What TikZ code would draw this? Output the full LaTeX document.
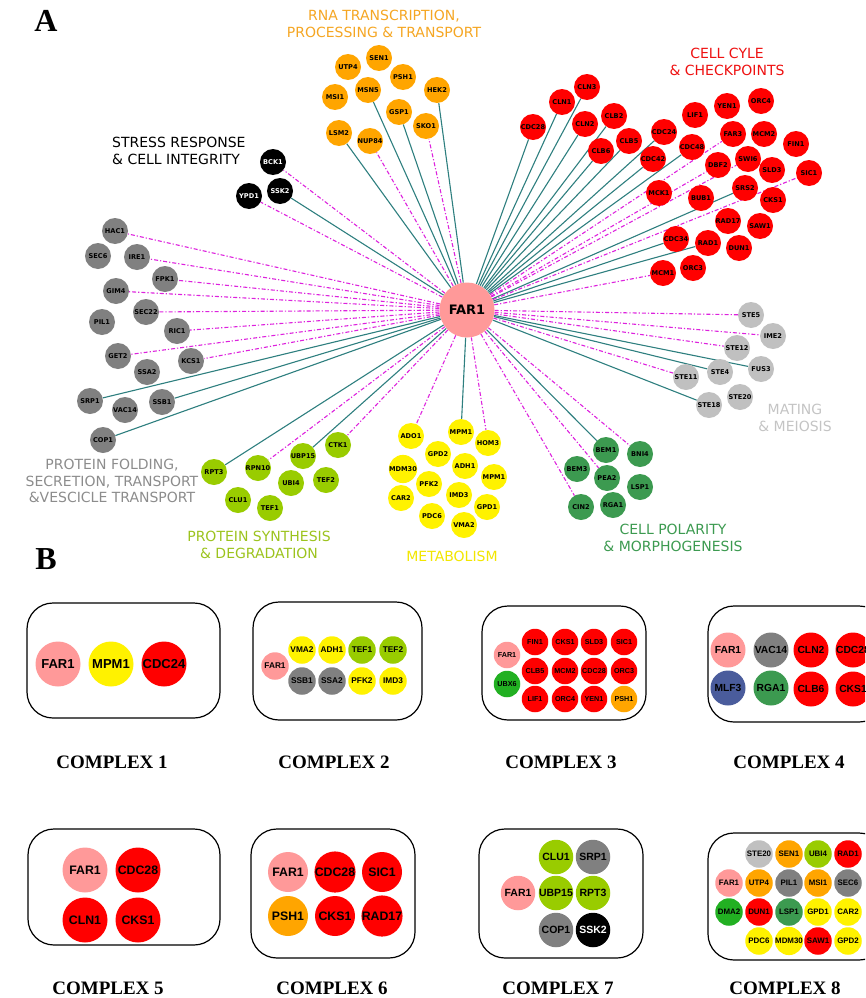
\documentclass[tikz,border=0pt]{standalone}
\usepackage{fontspec}
\setmainfont{Liberation Serif}
\newfontfamily\dvs{DejaVu Sans}
\newfontfamily\lsans{Liberation Sans}
\usetikzlibrary{backgrounds}
\definecolor{cTeal}{HTML}{2E7F7F}
\definecolor{cMag}{HTML}{DD22DD}
\definecolor{cRed}{HTML}{FF0000}
\definecolor{cOrange}{HTML}{FFA500}
\definecolor{cGray}{HTML}{808080}
\definecolor{cLGray}{HTML}{C0C0C0}
\definecolor{cYellow}{HTML}{FFF200}
\definecolor{cYG}{HTML}{99CC00}
\definecolor{cGreen}{HTML}{3C9A50}
\definecolor{cPink}{HTML}{FF9999}
\definecolor{cBGreen}{HTML}{22B022}
\definecolor{cBlue}{HTML}{4A5C9C}
\definecolor{tOrange}{HTML}{F5A623}
\definecolor{tRed}{HTML}{EE1111}
\definecolor{tGray}{HTML}{8C8C8C}
\definecolor{tYG}{HTML}{9CC31E}
\definecolor{tYellow}{HTML}{F2E600}
\definecolor{tGreen}{HTML}{3C9A50}
\definecolor{tLGray}{HTML}{C4C4C4}
\newcommand\cfs[1]{\lsans\bfseries\fontsize{#1}{#1}\selectfont}
\tikzset{
 an/.style={circle, inner sep=0pt, minimum size=26pt, font=\dvs\bfseries\fontsize{6.6}{7}\selectfont, text=black},
 nr/.style={an, fill=cRed}, no/.style={an, fill=cOrange}, ng/.style={an, fill=cGray},
 nl/.style={an, fill=cLGray}, nk/.style={an, fill=black, text=white}, ny/.style={an, fill=cYellow},
 nv/.style={an, fill=cYG}, nm/.style={an, fill=cGreen},
 te/.style={draw=cTeal, line width=1.1pt},
 me/.style={draw=cMag, line width=1.1pt, dash pattern=on 4pt off 2pt on 1.2pt off 2pt},
 cat/.style={font=\dvs\fontsize{14}{17.5}\selectfont, align=center, inner sep=0pt},
 cbox/.style={draw, line width=1.2pt, rounded corners=26pt},
 clab/.style={font=\bfseries\fontsize{19}{22}\selectfont, inner sep=0pt},
 cc/.style={circle, inner sep=0pt},
}
\begin{document}
\begin{tikzpicture}[x=1pt,y=-1pt]
\useasboundingbox (0,0) rectangle (865,998);
\clip (0,0) rectangle (865,998);

\node[font=\bfseries\fontsize{32}{32}\selectfont, inner sep=0pt] (labA) at (46,21) {A};
\node[font=\bfseries\fontsize{32}{32}\selectfont, inner sep=0pt] (labB) at (46,559) {B};

% centre
\node[circle, fill=cPink, minimum size=55pt, inner sep=0pt, font=\dvs\bfseries\fontsize{13}{14}\selectfont] (far1) at (467,310) {FAR1};

% RNA
\node[no] (sen1) at (379,58) {SEN1};
\node[no] (utp4) at (348,67) {UTP4};
\node[no] (psh1) at (403,77) {PSH1};
\node[no] (hek2) at (437,90) {HEK2};
\node[no] (msi1) at (335,97) {MSI1};
\node[no] (msn5) at (368,90) {MSN5};
\node[no] (gsp1) at (399,112) {GSP1};
\node[no] (sko1) at (426,126) {SKO1};
\node[no] (lsm2) at (339,133) {LSM2};
\node[no] (nup84) at (370,141) {NUP84};
\node[cat, text=tOrange] (tRNA) at (384,24) {RNA TRANSCRIPTION,\\PROCESSING \& TRANSPORT};

% cell cycle
\node[nr] (cln3) at (587,87) {CLN3};
\node[nr] (cln1) at (562,102) {CLN1};
\node[nr] (cdc28) at (533,127) {CDC28};
\node[nr] (cln2) at (585,124) {CLN2};
\node[nr] (clb2) at (614,116) {CLB2};
\node[nr] (clb5) at (629,141) {CLB5};
\node[nr] (clb6) at (601,151) {CLB6};
\node[nr] (cdc24) at (664,132) {CDC24};
\node[nr] (cdc48) at (692,147) {CDC48};
\node[nr] (cdc42) at (653,159) {CDC42};
\node[nr] (lif1) at (695,115) {LIF1};
\node[nr] (yen1) at (727,106) {YEN1};
\node[nr] (orc4) at (761,101) {ORC4};
\node[nr] (far3) at (733,134) {FAR3};
\node[nr] (mcm2) at (764,134) {MCM2};
\node[nr] (fin1) at (796,144) {FIN1};
\node[nr] (swi6) at (748,159) {SWI6};
\node[nr] (dbf2) at (718,165) {DBF2};
\node[nr] (sld3) at (772,170) {SLD3};
\node[nr] (sic1) at (809,173) {SIC1};
\node[nr] (mck1) at (659,193) {MCK1};
\node[nr] (bub1) at (701,198) {BUB1};
\node[nr] (srs2) at (745,188) {SRS2};
\node[nr] (cks1) at (773,200) {CKS1};
\node[nr] (rad17) at (728,221) {RAD17};
\node[nr] (saw1) at (760,226) {SAW1};
\node[nr] (cdc34) at (676,239) {CDC34};
\node[nr] (rad1) at (708,243) {RAD1};
\node[nr] (dun1) at (739,248) {DUN1};
\node[nr] (mcm1) at (663,273) {MCM1};
\node[nr] (orc3) at (693,268) {ORC3};
\node[cat, text=tRed] (tCC) at (727,62) {CELL CYLE\\\& CHECKPOINTS};

% stress
\node[nk] (bck1) at (273,162) {BCK1};
\node[nk] (ssk2) at (280,191) {SSK2};
\node[nk] (ypd1) at (249,196) {YPD1};
\node[cat, align=left, anchor=west, text=black] (tST) at (112,151) {STRESS RESPONSE\\\& CELL INTEGRITY};

% protein folding
\node[ng] (hac1) at (115,231) {HAC1};
\node[ng] (sec6) at (98,256) {SEC6};
\node[ng] (ire1) at (137,257) {IRE1};
\node[ng] (fpk1) at (165,279) {FPK1};
\node[ng] (gim4) at (116,291) {GIM4};
\node[ng] (sec22) at (146,312) {SEC22};
\node[ng] (pil1) at (102,322) {PIL1};
\node[ng] (ric1) at (177,331) {RIC1};
\node[ng] (get2) at (118,356) {GET2};
\node[ng] (kcs1) at (191,361) {KCS1};
\node[ng] (ssa2) at (147,372) {SSA2};
\node[ng] (srp1) at (90,401) {SRP1};
\node[ng] (ssb1) at (162,402) {SSB1};
\node[ng] (vac14) at (125,410) {VAC14};
\node[ng] (cop1) at (103,440) {COP1};
\node[cat, text=tGray, font=\dvs\fontsize{14}{16.5}\selectfont] (tPF) at (112,481) {PROTEIN FOLDING,\\SECRETION, TRANSPORT\\\&VESCICLE TRANSPORT};

% protein synthesis
\node[nv] (ctk1) at (338,445) {CTK1};
\node[nv] (ubp15) at (303,456) {UBP15};
\node[nv] (rpn10) at (258,468) {RPN10};
\node[nv] (rpt3) at (214,472) {RPT3};
\node[nv] (ubi4) at (291,483) {UBI4};
\node[nv] (tef2) at (326,480) {TEF2};
\node[nv] (clu1) at (238,500) {CLU1};
\node[nv] (tef1) at (270,508) {TEF1};
\node[cat, text=tYG] (tPS) at (259,545) {PROTEIN SYNTHESIS\\\& DEGRADATION};

% metabolism
\node[ny] (ado1) at (411,436) {ADO1};
\node[ny] (mpm1) at (461,432) {MPM1};
\node[ny] (hom3) at (488,443) {HOM3};
\node[ny] (gpd2) at (438,454) {GPD2};
\node[ny] (adh1) at (465,466) {ADH1};
\node[ny] (mdm30) at (403,469) {MDM30};
\node[ny] (mpmb) at (494,477) {MPM1};
\node[ny] (pfk2) at (429,484) {PFK2};
\node[ny] (car2) at (401,498) {CAR2};
\node[ny] (imd3) at (459,495) {IMD3};
\node[ny] (gpd1) at (487,507) {GPD1};
\node[ny] (pdc6) at (432,516) {PDC6};
\node[ny] (vma2) at (464,525) {VMA2};
\node[cat, text=tYellow] (tMB) at (452,556) {METABOLISM};

% polarity
\node[nm] (bem1) at (606,450) {BEM1};
\node[nm] (bni4) at (640,454) {BNI4};
\node[nm] (bem3) at (577,469) {BEM3};
\node[nm] (pea2) at (607,478) {PEA2};
\node[nm] (lsp1) at (640,487) {LSP1};
\node[nm] (cin2) at (581,507) {CIN2};
\node[nm] (rga1) at (613,505) {RGA1};
\node[cat, text=tGreen] (tCP) at (673,538) {CELL POLARITY\\\& MORPHOGENESIS};

% mating
\node[nl] (ste5) at (751,315) {STE5};
\node[nl] (ime2) at (773,336) {IME2};
\node[nl] (ste12) at (737,348) {STE12};
\node[nl] (fus3) at (761,369) {FUS3};
\node[nl] (ste4) at (720,372) {STE4};
\node[nl] (ste11) at (686,377) {STE11};
\node[nl] (ste20) at (740,397) {STE20};
\node[nl] (ste18) at (709,405) {STE18};
\node[cat, text=tLGray] (tMT) at (795,418) {MATING\\\& MEIOSIS};

\begin{scope}[on background layer]
\foreach \n in {lsm2,msn5,gsp1,hek2,cdc28,cln1,cln3,cln2,clb2,clb6,clb5,cdc24,cdc42,cdc48,srs2,cdc34,rad1,ssk2,srp1,ssb1,cop1,rpt3,ubp15,mpm1,bem1,fus3,ste4,ste18}
  \draw[te] (far1) -- (\n);
\foreach \n in {nup84,sko1,far3,swi6,dbf2,sic1,mcm1,bck1,ypd1,hac1,ire1,fpk1,gim4,sec22,ric1,get2,kcs1,rpn10,ctk1,ado1,hom3,bni4,pea2,cin2,ste5,ime2,ste12,ste11}
  \draw[me] (far1) -- (\n);
\end{scope}

% ===== B =====
% complex 1
\draw[cbox] (27,603) rectangle (220,718);
\begin{scope}[nodes={cc, minimum size=45pt, font=\cfs{13}}]
\node[fill=cPink] (c1a) at (58,664) {FAR1};
\node[fill=cYellow] (c1b) at (111,664) {MPM1};
\node[fill=cRed] (c1c) at (164,664) {CDC24};
\end{scope}
\node[clab] (l1) at (112,762) {COMPLEX 1};

% complex 2
\draw[cbox] (253,602) rectangle (422,720);
\begin{scope}[nodes={cc, minimum size=27.5pt, font=\cfs{8.3}}]
\node[fill=cPink] (c2a) at (275,666) {FAR1};
\node[fill=cYellow] (c2b) at (302,650) {VMA2};
\node[fill=cYellow] (c2c) at (332,650) {ADH1};
\node[fill=cYG] (c2d) at (362,650) {TEF1};
\node[fill=cYG] (c2e) at (393,650) {TEF2};
\node[fill=cGray] (c2f) at (302,681) {SSB1};
\node[fill=cGray] (c2g) at (332,681) {SSA2};
\node[fill=cYellow] (c2h) at (362,681) {PFK2};
\node[fill=cYellow] (c2i) at (393,681) {IMD3};
\end{scope}
\node[clab] (l2) at (334,762) {COMPLEX 2};

% complex 3
\draw[cbox] (482,606) rectangle (646,720);
\begin{scope}[nodes={cc, minimum size=26.5pt, font=\cfs{7.2}}]
\node[fill=cPink] (c3a) at (507,655) {FAR1};
\node[fill=cBGreen] (c3b) at (507,684) {UBX6};
\node[fill=cRed] (c3c) at (535,642) {FIN1};
\node[fill=cRed] (c3d) at (565,642) {CKS1};
\node[fill=cRed] (c3e) at (594,642) {SLD3};
\node[fill=cRed] (c3f) at (624,642) {SIC1};
\node[fill=cRed] (c3g) at (535,671) {CLB5};
\node[fill=cRed] (c3h) at (565,671) {MCM2};
\node[fill=cRed] (c3i) at (594,671) {CDC28};
\node[fill=cRed] (c3j) at (624,671) {ORC3};
\node[fill=cRed] (c3k) at (535,699) {LIF1};
\node[fill=cRed] (c3l) at (565,699) {ORC4};
\node[fill=cRed] (c3m) at (594,699) {YEN1};
\node[fill=cOrange] (c3n) at (624,699) {PSH1};
\end{scope}
\node[clab] (l3) at (561,762) {COMPLEX 3};

% complex 4
\draw[cbox] (708,606) rectangle (885,722);
\begin{scope}[nodes={cc, minimum size=35pt, font=\cfs{10.3}}]
\node[fill=cPink] (c4a) at (728,650) {FAR1};
\node[fill=cGray] (c4b) at (771,650) {VAC14};
\node[fill=cRed] (c4c) at (811,650) {CLN2};
\node[fill=cRed] (c4d) at (853,650) {CDC28};
\node[fill=cBlue] (c4e) at (728,688) {MLF3};
\node[fill=cGreen] (c4f) at (771,688) {RGA1};
\node[fill=cRed] (c4g) at (811,689) {CLB6};
\node[fill=cRed] (c4h) at (853,689) {CKS1};
\end{scope}
\node[clab] (l4) at (789,762) {COMPLEX 4};

% complex 5
\draw[cbox] (28,829) rectangle (220,945);
\begin{scope}[nodes={cc, minimum size=45pt, font=\cfs{12.3}}]
\node[fill=cPink] (c5a) at (85,870) {FAR1};
\node[fill=cRed] (c5b) at (138,870) {CDC28};
\node[fill=cRed] (c5c) at (85,920) {CLN1};
\node[fill=cRed] (c5d) at (138,920) {CKS1};
\end{scope}
\node[clab] (l5) at (108,988) {COMPLEX 5};

% complex 6
\draw[cbox] (251,829) rectangle (415,958);
\begin{scope}[nodes={cc, minimum size=40pt, font=\cfs{12.3}}]
\node[fill=cPink] (c6a) at (288,872) {FAR1};
\node[fill=cRed] (c6b) at (335,872) {CDC28};
\node[fill=cRed] (c6c) at (382,872) {SIC1};
\node[fill=cOrange] (c6d) at (288,916) {PSH1};
\node[fill=cRed] (c6e) at (335,916) {CKS1};
\node[fill=cRed] (c6f) at (382,916) {RAD17};
\end{scope}
\node[clab] (l6) at (332,988) {COMPLEX 6};

% complex 7
\draw[cbox] (479,829) rectangle (643,958);
\begin{scope}[nodes={cc, minimum size=34.5pt, font=\cfs{10.5}}]
\node[fill=cYG] (c7a) at (556,857) {CLU1};
\node[fill=cGray] (c7b) at (593,857) {SRP1};
\node[fill=cPink] (c7c) at (518,893) {FAR1};
\node[fill=cYG] (c7d) at (556,893) {UBP15};
\node[fill=cYG] (c7e) at (593,893) {RPT3};
\node[fill=cGray] (c7f) at (556,930) {COP1};
\node[fill=black, text=white] (c7g) at (593,930) {SSK2};
\end{scope}
\node[clab] (l7) at (558,988) {COMPLEX 7};

% complex 8
\draw[cbox] (708,833) rectangle (885,960);
\begin{scope}[nodes={cc, minimum size=27.5pt, font=\cfs{7.9}}]
\node[fill=cLGray] (c8a) at (759,854) {STE20};
\node[fill=cOrange] (c8b) at (789,854) {SEN1};
\node[fill=cYG] (c8c) at (818,854) {UBI4};
\node[fill=cRed] (c8d) at (848,854) {RAD1};
\node[fill=cPink] (c8e) at (729,883) {FAR1};
\node[fill=cOrange] (c8f) at (759,883) {UTP4};
\node[fill=cGray] (c8g) at (789,883) {PIL1};
\node[fill=cOrange] (c8h) at (818,883) {MSI1};
\node[fill=cGray] (c8i) at (848,883) {SEC6};
\node[fill=cBGreen] (c8j) at (729,912) {DMA2};
\node[fill=cRed] (c8k) at (759,912) {DUN1};
\node[fill=cGreen] (c8l) at (789,912) {LSP1};
\node[fill=cYellow] (c8m) at (818,912) {GPD1};
\node[fill=cYellow] (c8n) at (848,912) {CAR2};
\node[fill=cYellow] (c8o) at (759,941) {PDC6};
\node[fill=cYellow] (c8p) at (789,941) {MDM30};
\node[fill=cRed] (c8q) at (818,941) {SAW1};
\node[fill=cYellow] (c8r) at (848,941) {GPD2};
\end{scope}
\node[clab] (l8) at (785,988) {COMPLEX 8};
\end{tikzpicture}
\end{document}
